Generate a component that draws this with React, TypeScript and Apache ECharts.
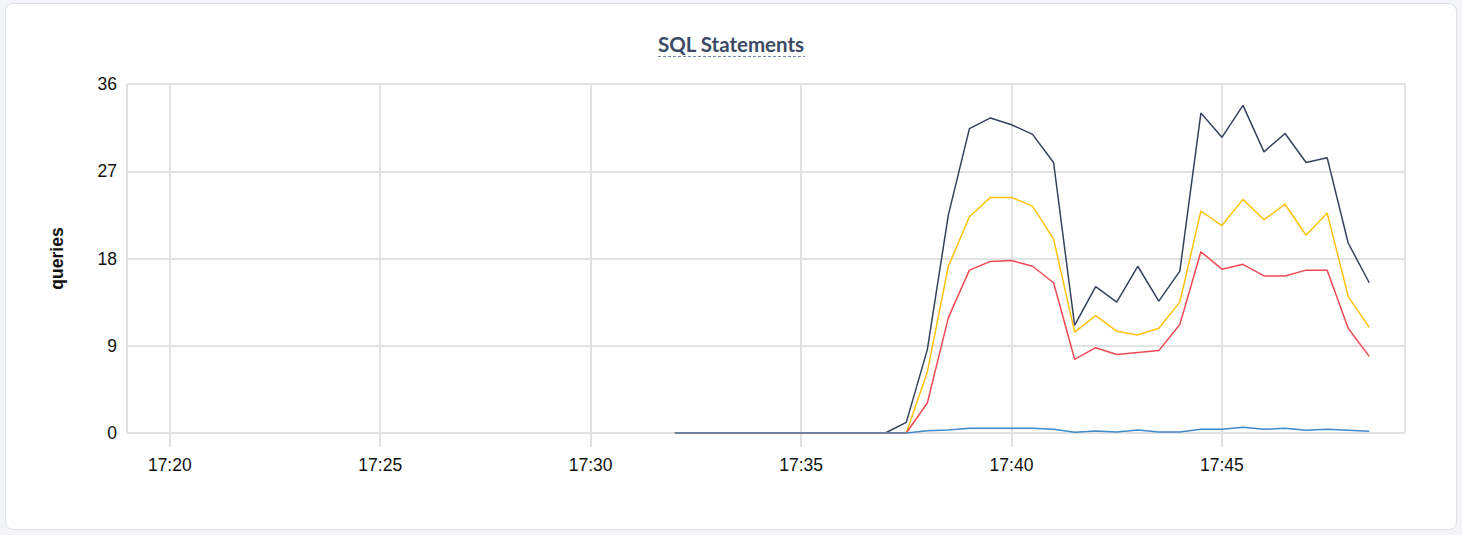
import React, { useEffect, useRef } from "react";
import * as echarts from "echarts";

const TITLE = "SQL Statements";
const Y_NAME = "queries";

const times = [
  "17:32:00", "17:32:30", "17:33:00", "17:33:30", "17:34:00", "17:34:30",
  "17:35:00", "17:35:30", "17:36:00", "17:36:30", "17:37:00", "17:37:30",
  "17:38:00", "17:38:30", "17:39:00", "17:39:30", "17:40:00", "17:40:30",
  "17:41:00", "17:41:30", "17:42:00", "17:42:30", "17:43:00", "17:43:30",
  "17:44:00", "17:44:30", "17:45:00", "17:45:30", "17:46:00", "17:46:30",
  "17:47:00", "17:47:30", "17:48:00", "17:48:30",
];

const totalQueries = [
  0, 0, 0, 0, 0, 0, 0, 0, 0, 0, 0, 1.1,
  8.6, 22.5, 31.4, 32.5, 31.8, 30.8, 27.9, 11.1, 15.1, 13.5, 17.2, 13.6,
  16.7, 33.0, 30.5, 33.8, 29.0, 30.9, 27.9, 28.4, 19.6, 15.5,
];

const selectQueries = [
  0, 0, 0, 0, 0, 0, 0, 0, 0, 0, 0, 0,
  6.3, 17.2, 22.3, 24.3, 24.3, 23.4, 20.0, 10.4, 12.1, 10.5, 10.1, 10.8,
  13.5, 22.9, 21.4, 24.1, 22.0, 23.6, 20.4, 22.7, 14.1, 10.9,
];

const updateQueries = [
  0, 0, 0, 0, 0, 0, 0, 0, 0, 0, 0, 0,
  3.1, 11.9, 16.8, 17.7, 17.8, 17.2, 15.5, 7.6, 8.8, 8.1, 8.3, 8.5,
  11.2, 18.7, 16.9, 17.4, 16.2, 16.2, 16.8, 16.8, 10.8, 7.9,
];

const otherQueries = [
  0, 0, 0, 0, 0, 0, 0, 0, 0, 0, 0, 0,
  0.24, 0.3, 0.48, 0.48, 0.48, 0.48, 0.38, 0.07, 0.2, 0.1, 0.3, 0.1,
  0.1, 0.38, 0.38, 0.59, 0.38, 0.48, 0.28, 0.38, 0.28, 0.17,
];

const X_MIN = "17:18:59";
const X_MAX = "17:49:21";
const Y_MIN = 0;
const Y_MAX = 36;
const Y_STEP = 9;

function toDate(t: string): number {
  const [h, m, s] = t.split(":").map(Number);
  return new Date(2024, 0, 15, h, m, s).getTime();
}

function pairs(vals: number[]) {
  return times.map((t, i) => [toDate(t), vals[i]]);
}

const FONT = "'Liberation Sans', Arial, Helvetica, sans-serif";
const GRID_COLOR = "#e2e2e2";

export default function App() {
  const ref = useRef<HTMLDivElement>(null);

  useEffect(() => {
    if (!ref.current) return;
    const chart = echarts.init(ref.current, undefined, { renderer: "svg" });
    const lineSeries = (name: string, data: number[], color: string) => ({
      name,
      type: "line",
      data: pairs(data),
      showSymbol: false,
      symbol: "none",
      lineStyle: { color, width: 1.5 },
      itemStyle: { color },
      emphasis: { disabled: true },
    });
    chart.setOption({
      animation: false,
      title: {
        text: TITLE,
        left: "center",
        top: 28,
        textStyle: {
          fontFamily: "Lato, 'Open Sans', sans-serif",
          fontWeight: "bold",
          fontSize: 20.5,
          color: "#3b4a66",
        },
      },
      graphic: [
        {
          type: "line",
          shape: { x1: 658, y1: 56.5, x2: 805, y2: 56.5 },
          style: { stroke: "#7b88b3", lineWidth: 1, lineDash: [3, 2] },
          silent: true,
        },
      ],
      grid: { left: 127, right: 57, top: 84, bottom: 102, containLabel: false },
      xAxis: {
        type: "time",
        min: toDate(X_MIN),
        max: toDate(X_MAX),
        splitNumber: 6,
        axisLine: { show: false },
        axisTick: {
          show: true,
          length: 14,
          lineStyle: { color: GRID_COLOR, width: 2 },
        },
        splitLine: { show: true, lineStyle: { color: GRID_COLOR, width: 2 } },
        minorTick: { show: false },
        axisLabel: {
          formatter: "{HH}:{mm}",
          margin: 23,
          color: "#111",
          fontSize: 17.5,
          fontFamily: FONT,
          hideOverlap: false,
        },
      },
      yAxis: {
        type: "value",
        min: Y_MIN,
        max: Y_MAX,
        interval: Y_STEP,
        name: Y_NAME,
        nameLocation: "middle",
        nameRotate: 90,
        nameGap: 61,
        nameTextStyle: {
          fontFamily: FONT,
          fontWeight: "bold",
          fontSize: 17.5,
          color: "#111",
        },
        axisLine: { show: false },
        axisTick: { show: false },
        splitLine: { show: true, lineStyle: { color: GRID_COLOR, width: 2 } },
        axisLabel: {
          margin: 10,
          color: "#111",
          fontSize: 17.5,
          fontFamily: FONT,
        },
      },
      series: [
        lineSeries("total", totalQueries, "#34425e"),
        lineSeries("select", selectQueries, "#fcc30b"),
        lineSeries("update", updateQueries, "#ee4a54"),
        lineSeries("other", otherQueries, "#3f8ac9"),
      ],
    });
    return () => chart.dispose();
  }, []);

  return (
    <div
      style={{
        position: "fixed",
        left: 0,
        top: 0,
        width: 1462,
        height: 535,
        background: "#f3f5f9",
      }}
    >
      <div
        style={{
          position: "absolute",
          left: 5,
          top: 3,
          width: 1450,
          height: 525,
          background: "#ffffff",
          border: "1px solid #dde1e7",
          borderRadius: 8,
        }}
      />
      <div
        ref={ref}
        style={{ position: "absolute", left: 0, top: 0, width: 1462, height: 535 }}
      />
    </div>
  );
}
